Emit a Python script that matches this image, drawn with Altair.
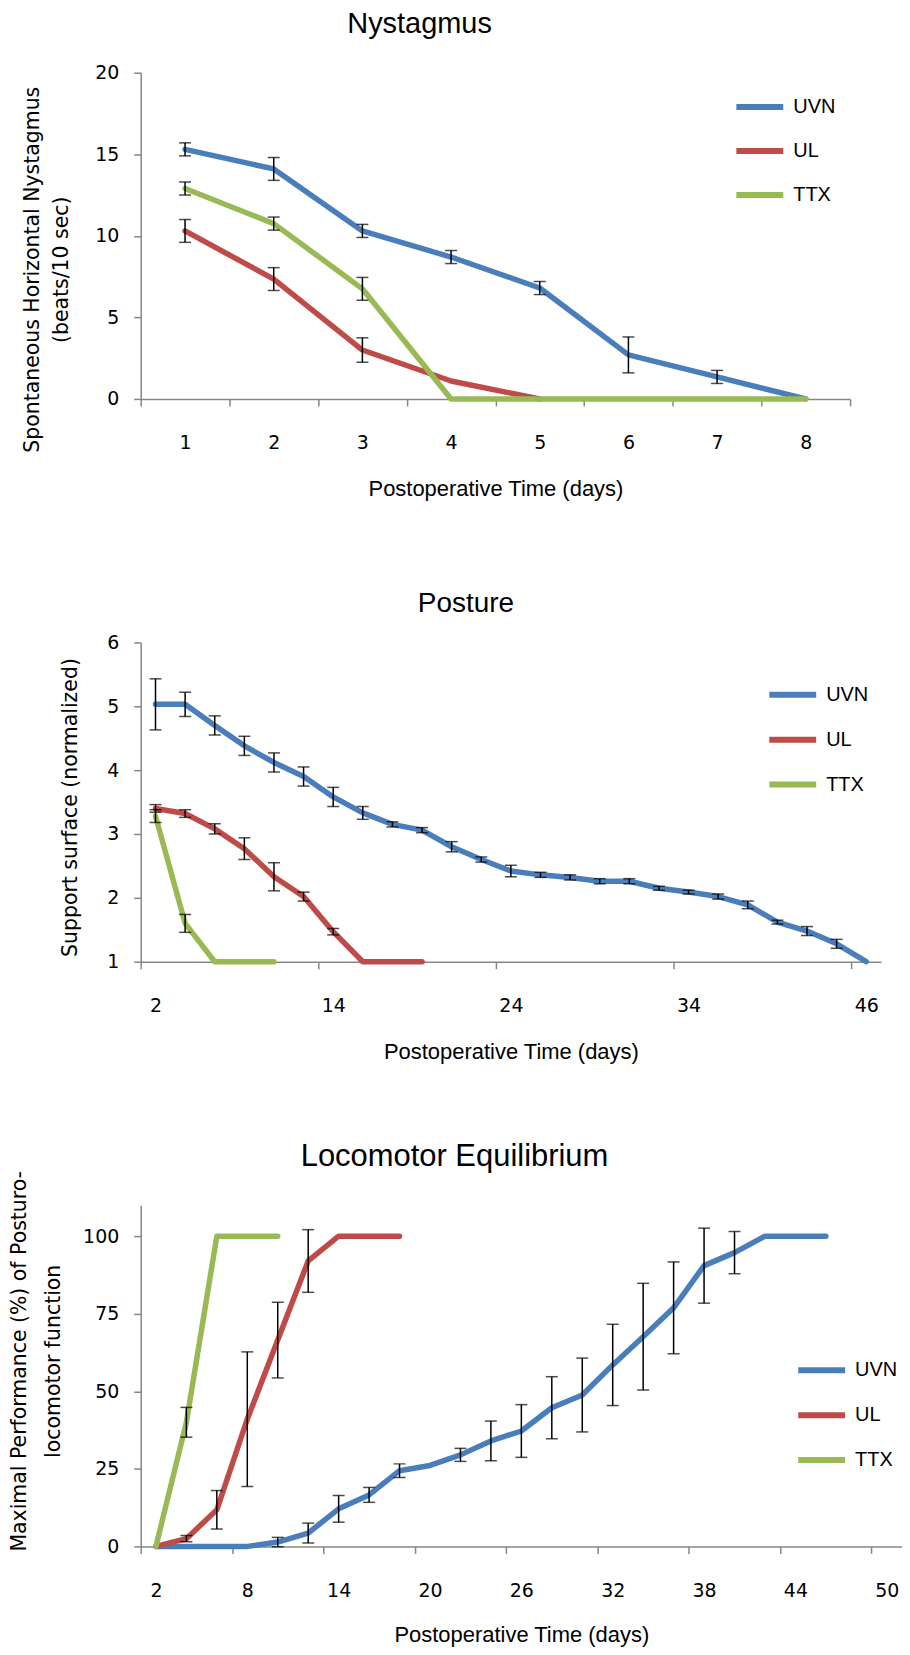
import altair as alt
import pandas as pd

FONT = "Liberation Sans"
YT_FONT = "DejaVu Sans"
TICK_FONT = "DejaVu Sans"
AXIS_GRAY = "#868686"

series_names = ["UVN", "UL", "TTX"]
series_colors = ["#4a7ebb", "#be4b48", "#98b954"]

# ---------------- Nystagmus ----------------
nyst_labels = ["1", "2", "3", "4", "5", "6", "7", "8"]
nyst_uvn = [15.3, 14.1, 10.3, 8.7, 6.8, 2.7, 1.35, 0.0]
nyst_uvn_err = [0.4, 0.7, 0.4, 0.4, 0.4, 1.1, 0.4, None]
nyst_ul = [10.3, 7.35, 3.0, 1.1, 0.0]
nyst_ul_err = [0.7, 0.7, 0.75, None, None]
nyst_ttx = [12.9, 10.75, 6.75, 0.0, 0.0, 0.0, 0.0, 0.0]
nyst_ttx_err = [0.4, 0.4, 0.7, None, None, None, None, None]

# ---------------- Posture (25 categories, label every 6th) ----------------
posture_labels = ["2", "14", "24", "34", "46"]
posture_uvn = [5.03, 5.03, 4.70, 4.38, 4.12, 3.90, 3.58, 3.33, 3.15, 3.06, 2.80, 2.60,
               2.42, 2.36, 2.32, 2.26, 2.26, 2.15, 2.09, 2.02, 1.89, 1.62, 1.48, 1.28, 1.0]
posture_uvn_err = [0.40, 0.19, 0.15, 0.15, 0.15, 0.15, 0.15, 0.10, 0.04, 0.04, 0.08, 0.04,
                   0.09, 0.04, 0.04, 0.04, 0.04, 0.03, 0.03, 0.04, 0.06, 0.03, 0.07, 0.07, None]
posture_ul = [3.40, 3.32, 3.08, 2.77, 2.33, 2.02, 1.47, 1.0, 1.0, 1.0]
posture_ul_err = [0.06, 0.06, 0.08, 0.17, 0.22, 0.07, 0.05, None, None, None]
posture_ttx = [3.28, 1.60, 1.0, 1.0, 1.0]
posture_ttx_err = [0.10, 0.14, None, None, None]

# ---------------- Locomotor (25 categories, label every 3rd) ----------------
loco_labels = ["2", "8", "14", "20", "26", "32", "38", "44", "50"]
loco_uvn = [0, 0, 0, 0, 1.4, 4.3, 12.1, 16.6, 24.4, 26.1, 29.5, 34.0, 37.2, 44.7, 48.8,
            58.5, 67.6, 76.9, 90.5, 94.7, 100, 100, 100]
loco_uvn_err = [None, None, None, None, 1.5, 3.2, 4.3, 2.4, 2.2, None, 2.1, 6.4, 8.5, 10.0,
                11.9, 13.1, 17.2, 14.8, 12.1, 6.8, None, None, None]
loco_ul = [0, 2.5, 11.8, 41.0, 66.5, 92.0, 100, 100, 100]
loco_ul_err = [None, 1.0, 6.2, 21.7, 12.2, 10.1, None, None, None]
loco_ttx = [0, 40.0, 100, 100, 100]
loco_ttx_err = [None, 4.8, None, None, None]


def panel(title, title_size, title_dx, title_dy, n, step, labels, end_tick, series, errs,
          ydomain, yvalues, ytitle, yt_size, yt_x, yt_y, yt_lh, width, height,
          leg_x, leg_y, leg_pad, xt_y):
    rows, erows = [], []
    for name, vals, ev in zip(series_names, series, errs):
        for i, v in enumerate(vals):
            rows.append({"idx": i, "series": name, "value": v})
            if ev[i] is not None:
                erows.append({"idx": i, "lo": v - ev[i], "hi": v + ev[i]})
    df = pd.DataFrame(rows)
    edf = pd.DataFrame(erows)

    band = width / n
    tick_vals = [-0.5 + step * k for k in range(len(labels))]
    if end_tick:
        tick_vals.append(n - 0.5)
    arr = "[" + ",".join("'" + s + "'" for s in labels) + "]"
    label_expr = f"{arr}[round((datum.value + 0.5) / {step})] || ''"

    xaxis = alt.Axis(values=tick_vals, labelExpr=label_expr, labelOffset=band / 2,
                     labelFlush=False, labelOverlap=False, grid=False,
                     domainColor=AXIS_GRAY, domainWidth=1.5, tickColor=AXIS_GRAY,
                     tickWidth=1.5, tickSize=7, labelPadding=43, labelBaseline="alphabetic",
                     labelFont=TICK_FONT, labelFontSize=19, labelColor="black",
                     title="Postoperative Time (days)", titleFont=FONT, titleFontSize=22,
                     titleFontWeight="normal", titleColor="black", titleY=xt_y,
                     titleBaseline="alphabetic")
    yaxis = alt.Axis(values=yvalues, grid=False, domainColor=AXIS_GRAY, domainWidth=1.5,
                     tickColor=AXIS_GRAY, tickWidth=1.5, tickSize=7, labelPadding=15,
                     labelFont=TICK_FONT, labelFontSize=19, labelColor="black",
                     title=ytitle, titleFont=YT_FONT, titleFontSize=yt_size,
                     titleFontWeight="normal", titleColor="black", titleAngle=270,
                     titleAlign="center", titleBaseline="top", titleX=yt_x, titleY=yt_y,
                     titleLineHeight=yt_lh)
    xs = alt.Scale(domain=[-0.5, n - 0.5], nice=False, zero=False)
    ys = alt.Scale(domain=ydomain, nice=False, zero=False)

    x_enc = alt.X("idx:Q", scale=xs, axis=xaxis)
    line = alt.Chart(df).mark_line(strokeWidth=5.5, strokeCap="round", strokeJoin="round").encode(
        x=x_enc,
        y=alt.Y("value:Q", scale=ys, axis=yaxis),
        color=alt.Color("series:N", sort=series_names,
                        scale=alt.Scale(domain=series_names, range=series_colors),
                        legend=alt.Legend(orient="none", legendX=leg_x, legendY=leg_y,
                                          title=None, symbolType="stroke",
                                          symbolStrokeWidth=6, symbolSize=2209,
                                          labelFont=FONT, labelFontSize=20,
                                          labelColor="black", labelOffset=7,
                                          rowPadding=leg_pad, padding=0)),
    )
    rule = alt.Chart(edf).mark_rule(color="black", strokeWidth=1.5).encode(
        x=x_enc, y=alt.Y("lo:Q", scale=ys, axis=yaxis), y2="hi:Q")
    cap_lo = alt.Chart(edf).mark_tick(color="black", orient="horizontal", size=12,
                                      thickness=1.5).encode(
        x=x_enc, y=alt.Y("lo:Q", scale=ys, axis=yaxis))
    cap_hi = alt.Chart(edf).mark_tick(color="black", orient="horizontal", size=12,
                                      thickness=1.5).encode(
        x=x_enc, y=alt.Y("hi:Q", scale=ys, axis=yaxis))

    layered = alt.layer(line, rule, cap_lo, cap_hi).properties(
        title=alt.TitleParams(title, font=FONT, fontSize=title_size, fontWeight="normal",
                              color="black", anchor="middle", dx=title_dx, dy=title_dy,
                              offset=0, baseline="alphabetic"))
    return layered.properties(width=width, height=height)


p1 = panel("Nystagmus", 29, -76, -2, 8, 1, nyst_labels, True,
           [nyst_uvn, nyst_ul, nyst_ttx], [nyst_uvn_err, nyst_ul_err, nyst_ttx_err],
           [0, 20], [0, 5, 10, 15, 20],
           ["Spontaneous Horizontal Nystagmus", "(beats/10 sec)"], 20.5, -118, 197, 29,
           711, 327, 594, 8, 5, 97)
p2 = panel("Posture", 28, -45, 7, 25, 6, posture_labels, False,
           [posture_uvn, posture_ul, posture_ttx],
           [posture_uvn_err, posture_ul_err, posture_ttx_err],
           [1, 6], [1, 2, 3, 4, 5, 6],
           "Support surface (normalized)", 20.5, -80, 165, 29,
           742, 320, 627, 26, 6, 97)
p3 = panel("Locomotor Equilibrium", 31, -67, 27, 25, 3, loco_labels, False,
           [loco_uvn, loco_ul, loco_ttx], [loco_uvn_err, loco_ul_err, loco_ttx_err],
           [0, 110], [0, 25, 50, 75, 100],
           ["Maximal Performance (%) of Posturo-", "locomotor function"], 20.5, -131, 156, 34,
           763, 342, 656, 139, 6, 95)

chart = alt.vconcat(p1, p2, p3, spacing=244, bounds="flush").resolve_scale(
    color="independent").resolve_legend(color="independent").properties(
    padding={"left": 2, "top": 0, "right": 0, "bottom": 0}).configure_view(stroke=None)

chart.save("out.html", embed_options={"renderer": "svg", "actions": False})
